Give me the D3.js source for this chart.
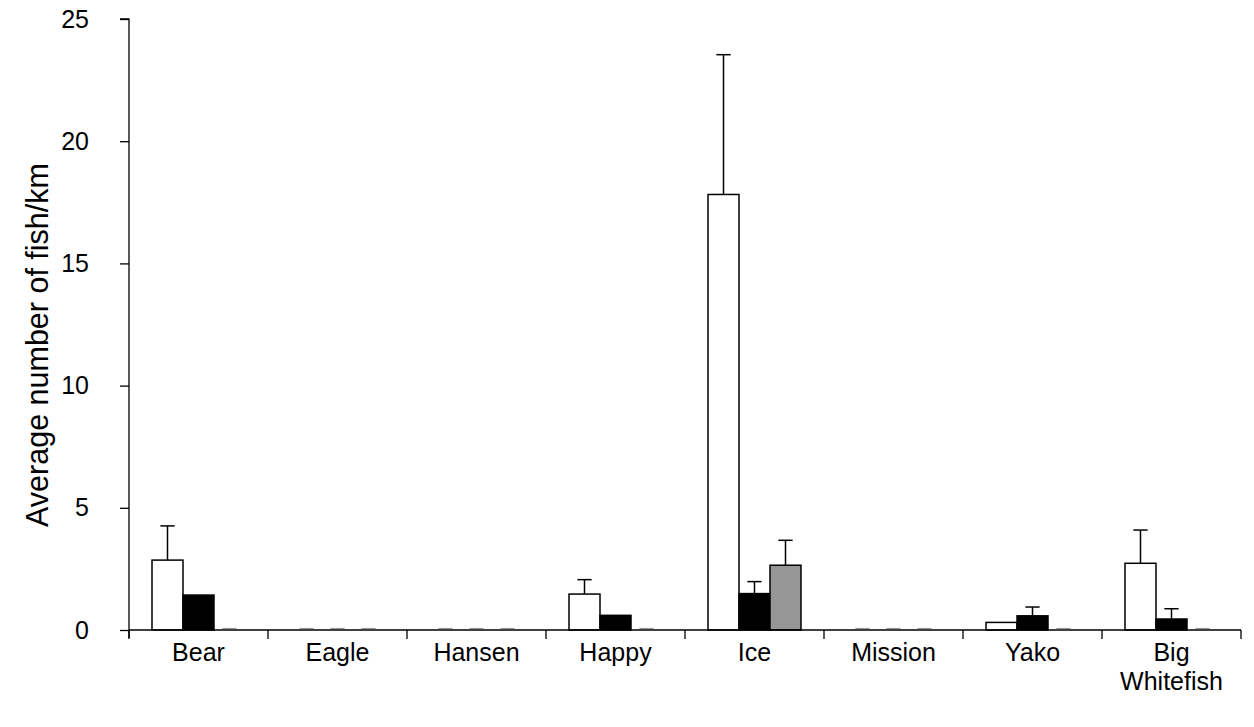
<!DOCTYPE html>
<html>
<head>
<meta charset="utf-8">
<script src="https://cdn.jsdelivr.net/npm/d3@7"></script>
<style>
  html, body { margin: 0; padding: 0; background: #fff; }
  svg { display: block; font-family: "Liberation Sans", Arial, sans-serif; }
</style>
</head>
<body>
<svg id="chart" width="1254" height="727"></svg>
<script>
// Streams surveyed
const categories = ["Bear", "Eagle", "Hansen", "Happy", "Ice", "Mission", "Yako", "Big Whitefish"];

// Mean fish per km for the three groups (white, black, grey bars)
const whiteValues = [2.86, 0, 0, 1.47, 17.82, 0, 0.31, 2.73];
const blackValues = [1.43, 0, 0, 0.60, 1.49, 0, 0.58, 0.45];
const greyValues  = [0, 0, 0, 0, 2.65, 0, 0, 0];

// Upper error (added to the mean); 0 means no bar drawn
const whiteErrors = [1.40, 0, 0, 0.59, 5.72, 0, 0, 1.36];
const blackErrors = [0, 0, 0, 0, 0.49, 0, 0.36, 0.42];
const greyErrors  = [0, 0, 0, 0, 1.02, 0, 0, 0];

const yTicks = [0, 5, 10, 15, 20, 25];

const seriesKeys = ["white", "black", "grey"];
const fills = { white: "#ffffff", black: "#000000", grey: "#969696" };
const valuesByKey = { white: whiteValues, black: blackValues, grey: greyValues };
const errorsByKey = { white: whiteErrors, black: blackErrors, grey: greyErrors };

const margin = { left: 129, right: 13, top: 19, bottom: 97 };
const W = 1254, H = 727;
const svg = d3.select("#chart");

const x0 = d3.scaleBand()
  .domain(categories)
  .range([margin.left, W - margin.right])
  .paddingInner(0).paddingOuter(0);

const x1 = d3.scaleBand()
  .domain(seriesKeys)
  .range([0, x0.bandwidth()])
  .paddingInner(0)
  .paddingOuter(0.742);

const y = d3.scaleLinear()
  .domain([0, 25])
  .range([H - margin.bottom, margin.top]);

// Flat list of bar records
const bars = [];
categories.forEach((c, i) => {
  seriesKeys.forEach(k => {
    bars.push({ cat: c, key: k, value: valuesByKey[k][i], err: errorsByKey[k][i] });
  });
});

const g = svg.append("g");

// Error bars (upper whisker with cap), drawn behind the bars
const errs = g.append("g").selectAll("g")
  .data(bars.filter(d => d.err > 0))
  .join("g");
errs.append("line")
  .attr("x1", d => x0(d.cat) + x1(d.key) + x1.bandwidth() / 2)
  .attr("x2", d => x0(d.cat) + x1(d.key) + x1.bandwidth() / 2)
  .attr("y1", d => y(d.value))
  .attr("y2", d => y(d.value + d.err))
  .attr("stroke", "#000").attr("stroke-width", 1.5);
errs.append("line")
  .attr("x1", d => x0(d.cat) + x1(d.key) + x1.bandwidth() * 0.27)
  .attr("x2", d => x0(d.cat) + x1(d.key) + x1.bandwidth() * 0.73)
  .attr("y1", d => y(d.value + d.err))
  .attr("y2", d => y(d.value + d.err))
  .attr("stroke", "#000").attr("stroke-width", 1.5);

// Bars with non-zero values
g.append("g").selectAll("rect")
  .data(bars.filter(d => d.value > 0))
  .join("rect")
  .attr("x", d => x0(d.cat) + x1(d.key))
  .attr("y", d => y(d.value))
  .attr("width", x1.bandwidth())
  .attr("height", d => y(0) - y(d.value))
  .attr("fill", d => fills[d.key])
  .attr("stroke", "#000")
  .attr("stroke-width", 1.5);

// Zero-valued bars show as a faint stub on the baseline
g.append("g").selectAll("line")
  .data(bars.filter(d => d.value === 0))
  .join("line")
  .attr("x1", d => x0(d.cat) + x1(d.key) + x1.bandwidth() * 0.27)
  .attr("x2", d => x0(d.cat) + x1(d.key) + x1.bandwidth() * 0.73)
  .attr("y1", y(0) - 1.5)
  .attr("y2", y(0) - 1.5)
  .attr("stroke", "#9a9a9a")
  .attr("stroke-width", 1.2);

// Y axis
const yAxis = svg.append("g")
  .attr("transform", `translate(${margin.left},0)`)
  .call(d3.axisLeft(y).tickValues(yTicks).tickSize(9).tickPadding(31).tickFormat(d3.format("d")));
yAxis.select(".domain").attr("stroke", "#000").attr("stroke-width", 1.3)
  .attr("d", `M-9,${y(25)}H0V${y(0) + 8}`);
yAxis.selectAll(".tick line").attr("stroke", "#000").attr("stroke-width", 1.3);
yAxis.selectAll(".tick text")
  .attr("font-size", 25).attr("fill", "#000")
  .attr("font-family", "'Liberation Sans', Arial, sans-serif");

// X axis: ticks sit at category boundaries
const boundaries = categories.map(c => x0(c)).concat([x0.range()[1]]);
svg.append("line")
  .attr("x1", margin.left).attr("x2", x0.range()[1])
  .attr("y1", y(0)).attr("y2", y(0))
  .attr("stroke", "#000").attr("stroke-width", 1.3);
svg.append("g").selectAll("line")
  .data(boundaries)
  .join("line")
  .attr("x1", d => d).attr("x2", d => d)
  .attr("y1", y(0)).attr("y2", y(0) + 9)
  .attr("stroke", "#000").attr("stroke-width", 1.3);

// Category labels (wrap two-word names)
const labels = svg.append("g").selectAll("text")
  .data(categories)
  .join("text")
  .attr("x", d => x0(d) + x0.bandwidth() / 2)
  .attr("y", y(0) + 31)
  .attr("text-anchor", "middle")
  .attr("font-size", 25)
  .attr("fill", "#000");
labels.each(function (d) {
  const words = d.split(" ");
  const t = d3.select(this);
  words.forEach((w, i) => {
    t.append("tspan")
      .attr("x", x0(d) + x0.bandwidth() / 2)
      .attr("dy", i === 0 ? 0 : 29)
      .text(w);
  });
});

// Y axis title
svg.append("text")
  .attr("transform", `translate(48,345) rotate(-90)`)
  .attr("text-anchor", "middle")
  .attr("font-size", 30.5)
  .attr("fill", "#000")
  .text("Average number of fish/km");
</script>
</body>
</html>
